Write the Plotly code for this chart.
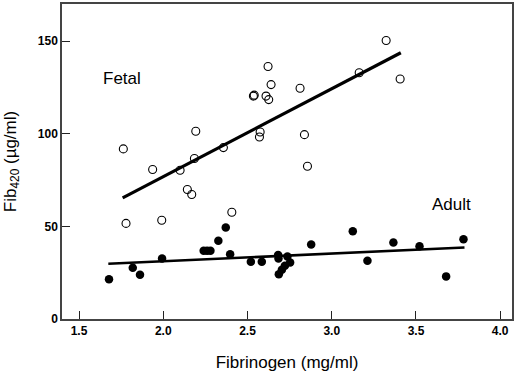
import plotly.graph_objects as go

# Fetal (open circles)
fetal_x = [1.763, 1.937, 2.193, 2.185, 2.100, 2.143, 2.169, 1.779, 1.991, 2.407,
           2.622, 2.640, 2.535, 2.540, 2.610, 2.626, 2.812, 2.575, 2.571, 2.357,
           2.838, 2.856, 3.323, 3.163, 3.406]
fetal_y = [91.8, 80.7, 101.3, 86.6, 80.3, 69.9, 67.2, 51.6, 53.3, 57.6,
           136.3, 126.5, 120.3, 120.8, 120.3, 118.4, 124.5, 100.9, 98.2, 92.5,
           99.5, 82.4, 150.3, 132.9, 129.5]

# Adult (filled circles)
adult_x = [1.678, 1.819, 1.862, 1.993, 2.240, 2.260, 2.280, 2.327, 2.371, 2.397,
           2.520, 2.585, 2.682, 2.684, 2.686, 2.704, 2.722, 2.737, 2.753, 2.878,
           3.125, 3.212, 3.366, 3.521, 3.679, 3.782]
adult_y = [21.4, 27.6, 23.9, 32.7, 36.8, 36.8, 36.8, 42.2, 49.4, 35.0,
           30.9, 30.9, 34.5, 32.6, 24.2, 26.6, 28.8, 33.7, 30.5, 40.2,
           47.4, 31.4, 41.3, 39.3, 23.0, 43.1]

# Regression lines (endpoints)
fetal_fit_x = [1.759, 3.410]
fetal_fit_y = [65.4, 143.7]
adult_fit_x = [1.674, 3.788]
adult_fit_y = [29.8, 38.6]

x_ticks = [1.5, 2.0, 2.5, 3.0, 3.5, 4.0]
x_tick_labels = ["1.5", "2.0", "2.5", "3.0", "3.5", "4.0"]
y_ticks = [0, 50, 100, 150]
y_tick_labels = ["0", "50", "100", "150"]

FONT = "Liberation Sans, Arial, sans-serif"

fig = go.Figure()
fig.add_trace(go.Scatter(x=fetal_fit_x, y=fetal_fit_y, mode="lines",
                         line=dict(color="black", width=3.2), showlegend=False))
fig.add_trace(go.Scatter(x=adult_fit_x, y=adult_fit_y, mode="lines",
                         line=dict(color="black", width=2.6), showlegend=False))
fig.add_trace(go.Scatter(x=fetal_x, y=fetal_y, mode="markers",
                         marker=dict(symbol="circle-open", size=8, color="black",
                                     line=dict(width=1.1)),
                         showlegend=False))
fig.add_trace(go.Scatter(x=adult_x, y=adult_y, mode="markers",
                         marker=dict(symbol="circle", size=8.5, color="black"),
                         showlegend=False))

fig.add_annotation(x=1.758, y=129.8, text="Fetal", showarrow=False,
                   font=dict(family=FONT, size=17, color="black"))
fig.add_annotation(x=3.713, y=62.0, text="Adult", showarrow=False,
                   font=dict(family=FONT, size=17, color="black"))

axis_common = dict(showgrid=False, zeroline=False, showline=True, mirror=True,
                   linecolor="#444444", linewidth=1.5, ticks="inside",
                   ticklen=8, tickwidth=1.3, tickcolor="#222222",
                   automargin=False,
                   tickfont=dict(family=FONT, size=12, color="black", weight="bold"))

fig.update_layout(
    width=520, height=372,
    margin=dict(l=62, r=8, t=4, b=53),
    paper_bgcolor="white", plot_bgcolor="white",
    hovermode=False,
    xaxis=dict(range=[1.399, 4.07], tickvals=x_ticks, ticktext=x_tick_labels,
               title=dict(text="Fibrinogen (mg/ml)", standoff=19,
                          font=dict(family=FONT, size=17, color="black")),
               **axis_common),
    yaxis=dict(range=[0, 170], tickvals=y_ticks, ticktext=y_tick_labels,
               title=dict(text="Fib<sub>420</sub> (µg/ml)", standoff=17,
                          font=dict(family=FONT, size=17, color="black")),
               **axis_common),
)

fig.write_html("out.html",
               config={"displayModeBar": False},
               post_script="document.body.style.margin='0px';"
                           "document.body.style.overflow='hidden';")
